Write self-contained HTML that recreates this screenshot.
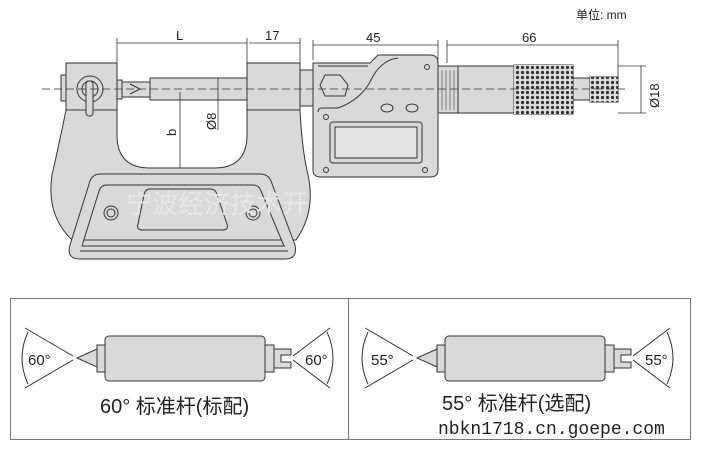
<!DOCTYPE html>
<html><head><meta charset="utf-8"><style>
body{margin:0;background:#fff;width:702px;height:448px;overflow:hidden}
svg text{font-family:"Liberation Sans","Noto Sans CJK SC",sans-serif;fill:#222}
</style></head><body>
<svg width="702" height="448" viewBox="0 0 702 448" xmlns="http://www.w3.org/2000/svg">
<g stroke="#333" stroke-width="1" fill="#d9d9d9">
<path d="M66,63 H117 V135 Q117,168 150,168 H214 Q247,168 247,135 V63 H300 V110 Q302,150 308,175 Q316,212 296,240 H72 Q46,215 52,175 Q60,140 66,110 Z"/>
<path d="M100,174 H260 Q268,174 271,181 L295,245 Q298,259 285,259 H80 Q66,259 70,245 L90,181 Q93,174 100,174 Z"/>
<path d="M107,185 H253 Q259,185 261,191 L284,246 H82 L99,191 Q101,185 107,185 Z"/>
<path d="M150,189 H210 Q216,189 217,195 L227,224 Q229,230 222,230 H143 Q136,230 138,224 L144,195 Q145,189 150,189 Z"/>
<line x1="84" y1="240" x2="282" y2="240"/><line x1="82" y1="246" x2="285" y2="246"/><line x1="80" y1="251" x2="288" y2="251"/>
<circle cx="111" cy="213" r="7"/><circle cx="111" cy="213" r="4"/>
<circle cx="253" cy="213" r="7"/><circle cx="253" cy="213" r="4"/>
<line x1="66" y1="110" x2="117" y2="110"/><line x1="247" y1="110" x2="300" y2="110"/>
<rect x="61" y="75" width="5" height="26"/>
<circle cx="90" cy="89" r="13"/><circle cx="90" cy="89" r="8"/>
<rect x="86" y="81" width="7" height="35" rx="3"/>
<rect x="117" y="80" width="5" height="19"/>
<rect x="122" y="82" width="28" height="15"/>
<path d="M130,84 L140,89 L130,94" fill="none"/>
<rect x="150" y="78" width="97" height="22"/>
<rect x="300" y="70" width="13" height="36"/>
<path d="M313,63 H370 L378,55 H430 Q438,55 438,63 V170 Q438,177 430,177 H321 Q313,177 313,170 Z"/>
<path d="M318,66 H368 M398,58 Q380,60 370,82 Q360,100 338,108 H322 Q318,108 318,112" fill="none"/>
<rect x="330" y="122" width="92" height="41" rx="3"/>
<rect x="335" y="127" width="82" height="31" fill="#e4e4e4"/>
<path d="M325,75 H340 L348,85 L345,96 H325 L320,85 Z"/>
<ellipse cx="387" cy="108" rx="6" ry="4"/><ellipse cx="412" cy="108" rx="6" ry="4"/>
<circle cx="427" cy="67" r="2.5"/><circle cx="326" cy="117" r="2.5"/><circle cx="326" cy="170" r="2.5"/><circle cx="425" cy="170" r="2.5"/>
<rect x="438" y="66" width="20" height="47"/>
<rect x="458" y="66" width="56" height="47"/>
<rect x="514" y="65" width="59" height="49" fill="#a9a9a9"/>
<rect x="573" y="78" width="17" height="22"/>
<rect x="590" y="77" width="28" height="25" fill="#a9a9a9"/>
</g>
<defs><pattern id="k" width="5" height="5" patternUnits="userSpaceOnUse"><rect width="5" height="5" fill="#ddd"/><circle cx="2.5" cy="2.5" r="1.6" fill="#333"/></pattern></defs>
<rect x="514" y="65" width="59" height="49" fill="url(#k)"/>
<rect x="590" y="77" width="28" height="25" fill="url(#k)"/>
<g stroke="#555" stroke-width="0.7">
<path d="M442,70v40M446,70v40M450,70v40M454,70v40"/>
</g>
<line x1="42" y1="89" x2="625" y2="89" stroke="#333" stroke-width="0.8" stroke-dasharray="8,4"/>
<g stroke="#333" stroke-width="0.8" fill="none">
<path d="M117,38V63M247,38V63M300,38V63M313,40V60M438,40V60M447,40V63M618,40V77"/>
<path d="M117,43H247M249,43H300M313,45H438M447,45H618"/>
<path d="M180,92V168M218,78V130M641,66V113M618,66H646M618,113H646"/>
</g>
<text x="176" y="40" font-size="13">L</text>
<text x="265" y="40" font-size="13">17</text>
<text x="366" y="42" font-size="13">45</text>
<text x="522" y="42" font-size="13">66</text>
<text x="576" y="19" font-size="12">单位: mm</text>
<text transform="translate(176,136) rotate(-90)" font-size="13">b</text>
<text transform="translate(216,130) rotate(-90)" font-size="13">Ø8</text>
<text transform="translate(659,108) rotate(-90)" font-size="13">Ø18</text>
<text x="126" y="213" font-size="26" style="fill:#e6e6e6">宁波经济技术开</text>
<rect x="10.5" y="298.5" width="680" height="141" fill="#fff" stroke="#777"/>
<line x1="348.5" y1="298" x2="348.5" y2="440" stroke="#777"/>
<g id="rod" stroke="#333" fill="#d9d9d9">
<rect x="105" y="336" width="160" height="45" rx="4"/>
<rect x="97" y="345" width="8" height="27"/>
<path d="M97,349 L77,358 L97,367 Z"/>
<rect x="265" y="345" width="9" height="27"/>
<path d="M274,349 H291 V355 H281 V362 H291 V368 H274 Z"/>
<path d="M25,328 L73,356 M25,388 L73,360 M330,328 L293,356 M330,388 L293,360" fill="none"/>
<path d="M28,332 Q16,358 28,384 M327,332 Q339,358 327,384" fill="none"/>
</g>
<text x="28" y="365" font-size="15">60°</text>
<text x="305" y="365" font-size="15">60°</text>
<text x="100" y="413" font-size="20">60° 标准杆(标配)</text>
<use href="#rod" x="340"/>
<text x="371" y="365" font-size="15">55°</text>
<text x="645" y="365" font-size="15">55°</text>
<text x="442" y="410" font-size="20">55° 标准杆(选配)</text>
<text x="438" y="434" font-size="18" style="font-family:'Liberation Mono',monospace">nbkn1718.cn.goepe.com</text>
</svg>
</body></html>
